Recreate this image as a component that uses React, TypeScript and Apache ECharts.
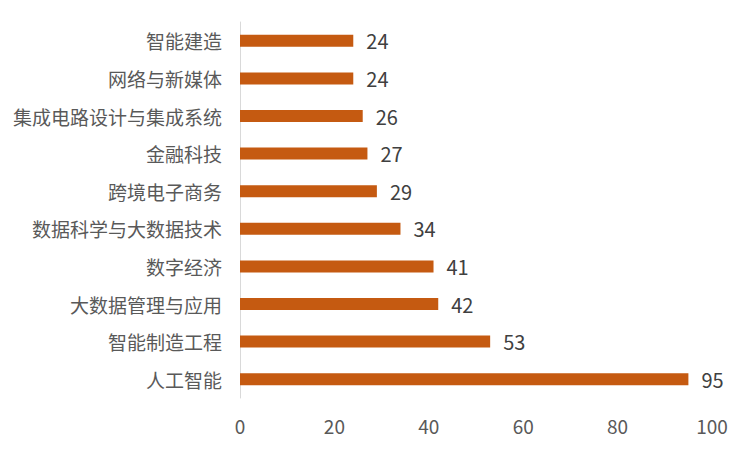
import { useEffect, useRef } from 'react';
import * as echarts from 'echarts';

// bottom to top, as drawn on the y axis
const categories = [
  '人工智能',
  '智能制造工程',
  '大数据管理与应用',
  '数字经济',
  '数据科学与大数据技术',
  '跨境电子商务',
  '金融科技',
  '集成电路设计与集成系统',
  '网络与新媒体',
  '智能建造'
];
const values = [95, 53, 42, 41, 34, 29, 27, 26, 24, 24];

const FONT = '"Noto Sans CJK SC", "Noto Sans", sans-serif';

export default function App() {
  const chartRef = useRef<HTMLDivElement>(null);

  useEffect(() => {
    document.body.style.margin = '0';
    if (!chartRef.current) return;
    const chart = echarts.init(chartRef.current, null, { renderer: 'svg' });

    const options: echarts.EChartsOption = {
      animation: false,
      backgroundColor: '#ffffff',
      grid: { left: 240, right: 38, top: 22, bottom: 52 },
      xAxis: {
        type: 'value',
        min: 0,
        max: 100,
        interval: 20,
        axisLine: { show: false },
        axisTick: { show: false },
        splitLine: { show: false },
        axisLabel: { color: '#595959', fontSize: 19, fontFamily: FONT, margin: 18 }
      },
      yAxis: {
        type: 'category',
        data: categories,
        axisLine: { show: true, lineStyle: { color: '#d9d9d9', width: 1 } },
        axisTick: { show: false },
        axisLabel: { color: '#595959', fontSize: 19, fontFamily: FONT, margin: 18 }
      },
      series: [
        {
          type: 'bar',
          data: values,
          barWidth: 12,
          itemStyle: { color: '#c55a11' },
          label: {
            show: true,
            position: 'right',
            distance: 13,
            color: '#404040',
            fontSize: 20,
            fontFamily: FONT
          }
        }
      ]
    };

    chart.setOption(options);
    return () => chart.dispose();
  }, []);

  return <div ref={chartRef} style={{ width: 750, height: 450 }} />;
}
